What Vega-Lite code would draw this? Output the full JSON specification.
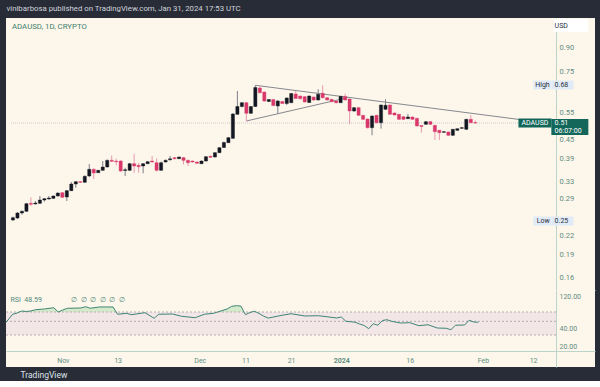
{
 "$schema": "https://vega.github.io/schema/vega-lite/v6.json",
 "background": "#282c37",
 "padding": {"left": 5, "right": 6, "top": 5, "bottom": 2},
 "title": {"text": "vinibarbosa published on TradingView.com, Jan 31, 2024 17:53 UTC", "anchor": "start", "fontSize": 7.8, "fontWeight": "normal", "color": "#d1d4dc", "offset": 5, "dx": 1},
 "config": {"font": "Roboto", "view": {"stroke": null, "fill": "#fdf6ea"}},
 "spacing": 0,
 "bounds": "flush",
 "datasets": {
  "candles": [
   {"d":"2023-10-20","o":0.2468,"h":0.2533,"l":0.2449,"c":0.2511},
   {"d":"2023-10-21","o":0.2505,"h":0.2620,"l":0.2486,"c":0.2600},
   {"d":"2023-10-22","o":0.2600,"h":0.2650,"l":0.2568,"c":0.2634},
   {"d":"2023-10-23","o":0.2634,"h":0.2802,"l":0.2620,"c":0.2788},
   {"d":"2023-10-24","o":0.2796,"h":0.2924,"l":0.2740,"c":0.2776},
   {"d":"2023-10-25","o":0.2782,"h":0.2845,"l":0.2771,"c":0.2802},
   {"d":"2023-10-26","o":0.2796,"h":0.2953,"l":0.2782,"c":0.2866},
   {"d":"2023-10-27","o":0.2866,"h":0.2909,"l":0.2830,"c":0.2894},
   {"d":"2023-10-28","o":0.2887,"h":0.2953,"l":0.2877,"c":0.2909},
   {"d":"2023-10-29","o":0.2902,"h":0.2964,"l":0.2887,"c":0.2953},
   {"d":"2023-10-30","o":0.2953,"h":0.3032,"l":0.2942,"c":0.3020},
   {"d":"2023-10-31","o":0.3027,"h":0.3043,"l":0.2909,"c":0.2924},
   {"d":"2023-11-01","o":0.2931,"h":0.3089,"l":0.2845,"c":0.3073},
   {"d":"2023-11-02","o":0.3073,"h":0.3279,"l":0.3066,"c":0.3230},
   {"d":"2023-11-03","o":0.3230,"h":0.3304,"l":0.3142,"c":0.3286},
   {"d":"2023-11-04","o":0.3286,"h":0.3304,"l":0.3255,"c":0.3272},
   {"d":"2023-11-05","o":0.3272,"h":0.3443,"l":0.3255,"c":0.3422},
   {"d":"2023-11-06","o":0.3430,"h":0.3751,"l":0.3404,"c":0.3606},
   {"d":"2023-11-07","o":0.3606,"h":0.3628,"l":0.3353,"c":0.3507},
   {"d":"2023-11-08","o":0.3515,"h":0.3587,"l":0.3507,"c":0.3579},
   {"d":"2023-11-09","o":0.3579,"h":0.3836,"l":0.3560,"c":0.3668},
   {"d":"2023-11-10","o":0.3668,"h":0.3880,"l":0.3655,"c":0.3856},
   {"d":"2023-11-11","o":0.3856,"h":0.3998,"l":0.3808,"c":0.3827},
   {"d":"2023-11-12","o":0.3836,"h":0.3903,"l":0.3715,"c":0.3816},
   {"d":"2023-11-13","o":0.3836,"h":0.3865,"l":0.3534,"c":0.3560},
   {"d":"2023-11-14","o":0.3574,"h":0.3649,"l":0.3430,"c":0.3595},
   {"d":"2023-11-15","o":0.3579,"h":0.3779,"l":0.3560,"c":0.3760},
   {"d":"2023-11-16","o":0.3760,"h":0.4052,"l":0.3515,"c":0.3696},
   {"d":"2023-11-17","o":0.3715,"h":0.3779,"l":0.3515,"c":0.3676},
   {"d":"2023-11-18","o":0.3696,"h":0.3779,"l":0.3499,"c":0.3760},
   {"d":"2023-11-19","o":0.3760,"h":0.3836,"l":0.3751,"c":0.3816},
   {"d":"2023-11-20","o":0.3836,"h":0.3983,"l":0.3794,"c":0.3808},
   {"d":"2023-11-21","o":0.3788,"h":0.3909,"l":0.3547,"c":0.3579},
   {"d":"2023-11-22","o":0.3579,"h":0.3822,"l":0.3560,"c":0.3788},
   {"d":"2023-11-23","o":0.3808,"h":0.3880,"l":0.3794,"c":0.3856},
   {"d":"2023-11-24","o":0.3871,"h":0.3983,"l":0.3851,"c":0.3900},
   {"d":"2023-11-25","o":0.3933,"h":0.3953,"l":0.3880,"c":0.3903},
   {"d":"2023-11-26","o":0.3903,"h":0.3968,"l":0.3894,"c":0.3953},
   {"d":"2023-11-27","o":0.3933,"h":0.3953,"l":0.3743,"c":0.3856},
   {"d":"2023-11-28","o":0.3856,"h":0.3880,"l":0.3696,"c":0.3788},
   {"d":"2023-11-29","o":0.3836,"h":0.3851,"l":0.3794,"c":0.3808},
   {"d":"2023-11-30","o":0.3808,"h":0.3822,"l":0.3760,"c":0.3771},
   {"d":"2023-12-01","o":0.3760,"h":0.3851,"l":0.3751,"c":0.3836},
   {"d":"2023-12-02","o":0.3836,"h":0.3983,"l":0.3822,"c":0.3962},
   {"d":"2023-12-03","o":0.3974,"h":0.3998,"l":0.3924,"c":0.3944},
   {"d":"2023-12-04","o":0.3953,"h":0.4104,"l":0.3938,"c":0.4082},
   {"d":"2023-12-05","o":0.4082,"h":0.4260,"l":0.4073,"c":0.4238},
   {"d":"2023-12-06","o":0.4244,"h":0.4439,"l":0.4228,"c":0.4406},
   {"d":"2023-12-07","o":0.4400,"h":0.4591,"l":0.4390,"c":0.4567},
   {"d":"2023-12-08","o":0.4547,"h":0.5494,"l":0.4523,"c":0.5453},
   {"d":"2023-12-09","o":0.5441,"h":0.6476,"l":0.5412,"c":0.5767},
   {"d":"2023-12-10","o":0.5767,"h":0.5965,"l":0.5724,"c":0.5933},
   {"d":"2023-12-11","o":0.5933,"h":0.5965,"l":0.5155,"c":0.5482},
   {"d":"2023-12-12","o":0.5482,"h":0.5789,"l":0.5453,"c":0.5767},
   {"d":"2023-12-13","o":0.5767,"h":0.6759,"l":0.5746,"c":0.6648},
   {"d":"2023-12-14","o":0.6624,"h":0.6749,"l":0.6356,"c":0.6394},
   {"d":"2023-12-15","o":0.6428,"h":0.6452,"l":0.5965,"c":0.6009},
   {"d":"2023-12-16","o":0.5987,"h":0.6100,"l":0.5965,"c":0.6077},
   {"d":"2023-12-17","o":0.6077,"h":0.6100,"l":0.5789,"c":0.5810},
   {"d":"2023-12-18","o":0.5789,"h":0.6055,"l":0.5473,"c":0.6009},
   {"d":"2023-12-19","o":0.5987,"h":0.6009,"l":0.5876,"c":0.5898},
   {"d":"2023-12-20","o":0.5898,"h":0.6169,"l":0.5832,"c":0.6146},
   {"d":"2023-12-21","o":0.5933,"h":0.6380,"l":0.5920,"c":0.6356},
   {"d":"2023-12-22","o":0.6332,"h":0.6476,"l":0.6100,"c":0.6123},
   {"d":"2023-12-23","o":0.6238,"h":0.6262,"l":0.6077,"c":0.6114},
   {"d":"2023-12-24","o":0.6206,"h":0.6238,"l":0.5942,"c":0.5965},
   {"d":"2023-12-25","o":0.5942,"h":0.6262,"l":0.5920,"c":0.6238},
   {"d":"2023-12-26","o":0.6192,"h":0.6215,"l":0.6009,"c":0.6055},
   {"d":"2023-12-27","o":0.6055,"h":0.6559,"l":0.6032,"c":0.6318},
   {"d":"2023-12-28","o":0.6366,"h":0.6759,"l":0.6123,"c":0.6160},
   {"d":"2023-12-29","o":0.6160,"h":0.6192,"l":0.6032,"c":0.6055},
   {"d":"2023-12-30","o":0.6086,"h":0.6100,"l":0.5965,"c":0.5978},
   {"d":"2023-12-31","o":0.6009,"h":0.6032,"l":0.5898,"c":0.5933},
   {"d":"2024-01-01","o":0.5933,"h":0.6238,"l":0.5920,"c":0.6224},
   {"d":"2024-01-02","o":0.6215,"h":0.6346,"l":0.6032,"c":0.6055},
   {"d":"2024-01-03","o":0.6100,"h":0.6123,"l":0.5049,"c":0.5577},
   {"d":"2024-01-04","o":0.5577,"h":0.5746,"l":0.5535,"c":0.5716},
   {"d":"2024-01-05","o":0.5716,"h":0.5746,"l":0.5372,"c":0.5400},
   {"d":"2024-01-06","o":0.5400,"h":0.5412,"l":0.5214,"c":0.5241},
   {"d":"2024-01-07","o":0.5253,"h":0.5272,"l":0.4893,"c":0.4922},
   {"d":"2024-01-08","o":0.4922,"h":0.5392,"l":0.4650,"c":0.5372},
   {"d":"2024-01-09","o":0.5400,"h":0.5412,"l":0.5079,"c":0.5109},
   {"d":"2024-01-10","o":0.5109,"h":0.5854,"l":0.4885,"c":0.5832},
   {"d":"2024-01-11","o":0.5648,"h":0.6086,"l":0.5618,"c":0.5819},
   {"d":"2024-01-12","o":0.5832,"h":0.5854,"l":0.5412,"c":0.5441},
   {"d":"2024-01-13","o":0.5494,"h":0.5515,"l":0.5392,"c":0.5412},
   {"d":"2024-01-14","o":0.5441,"h":0.5453,"l":0.5214,"c":0.5241},
   {"d":"2024-01-15","o":0.5344,"h":0.5372,"l":0.5214,"c":0.5241},
   {"d":"2024-01-16","o":0.5265,"h":0.5453,"l":0.5253,"c":0.5332},
   {"d":"2024-01-17","o":0.5332,"h":0.5352,"l":0.5214,"c":0.5241},
   {"d":"2024-01-18","o":0.5280,"h":0.5292,"l":0.4966,"c":0.4985},
   {"d":"2024-01-19","o":0.5004,"h":0.5022,"l":0.4741,"c":0.4966},
   {"d":"2024-01-20","o":0.5049,"h":0.5175,"l":0.5022,"c":0.5148},
   {"d":"2024-01-21","o":0.5148,"h":0.5175,"l":0.5022,"c":0.5049},
   {"d":"2024-01-22","o":0.5011,"h":0.5022,"l":0.4489,"c":0.4777},
   {"d":"2024-01-23","o":0.4827,"h":0.4838,"l":0.4489,"c":0.4741},
   {"d":"2024-01-24","o":0.4755,"h":0.4802,"l":0.4731,"c":0.4777},
   {"d":"2024-01-25","o":0.4766,"h":0.4784,"l":0.4626,"c":0.4650},
   {"d":"2024-01-26","o":0.4650,"h":0.4874,"l":0.4626,"c":0.4863},
   {"d":"2024-01-27","o":0.4827,"h":0.4893,"l":0.4802,"c":0.4885},
   {"d":"2024-01-28","o":0.4900,"h":0.4948,"l":0.4874,"c":0.4922},
   {"d":"2024-01-29","o":0.4863,"h":0.5253,"l":0.4838,"c":0.5241},
   {"d":"2024-01-30","o":0.5241,"h":0.5412,"l":0.5098,"c":0.5109},
   {"d":"2024-01-31","o":0.5113,"h":0.5194,"l":0.5060,"c":0.5098}
  ],
  "rsi": [
   {"d":"2023-10-19","r":44.6},{"d":"2023-10-20","r":52.8},{"d":"2023-10-21","r":65.1},{"d":"2023-10-22","r":67.8},
   {"d":"2023-10-23","r":72.2},{"d":"2023-10-24","r":71.1},{"d":"2023-10-25","r":72.2},{"d":"2023-10-26","r":74.9},
   {"d":"2023-10-28","r":76.5},{"d":"2023-10-30","r":79.2},{"d":"2023-10-31","r":70.0},{"d":"2023-11-01","r":74.3},
   {"d":"2023-11-02","r":78.0},{"d":"2023-11-05","r":78.6},{"d":"2023-11-06","r":81.4},{"d":"2023-11-07","r":78.0},
   {"d":"2023-11-09","r":80.8},{"d":"2023-11-12","r":80.8},{"d":"2023-11-13","r":65.1},{"d":"2023-11-15","r":67.2},
   {"d":"2023-11-16","r":64.2},{"d":"2023-11-19","r":68.5},{"d":"2023-11-21","r":56.5},{"d":"2023-11-22","r":65.1},
   {"d":"2023-11-25","r":65.7},{"d":"2023-11-27","r":60.8},{"d":"2023-11-30","r":57.7},{"d":"2023-12-02","r":65.1},
   {"d":"2023-12-04","r":67.2},{"d":"2023-12-07","r":76.5},{"d":"2023-12-08","r":82.3},{"d":"2023-12-09","r":83.5},
   {"d":"2023-12-10","r":82.9},{"d":"2023-12-11","r":64.2},{"d":"2023-12-12","r":68.9},{"d":"2023-12-13","r":71.7},
   {"d":"2023-12-14","r":66.8},{"d":"2023-12-15","r":61.0},{"d":"2023-12-16","r":56.9},{"d":"2023-12-19","r":62.9},
   {"d":"2023-12-21","r":66.3},{"d":"2023-12-24","r":61.4},{"d":"2023-12-27","r":62.0},{"d":"2023-12-31","r":57.1},
   {"d":"2024-01-01","r":59.2},{"d":"2024-01-02","r":50.0},{"d":"2024-01-03","r":49.4},{"d":"2024-01-04","r":48.7},
   {"d":"2024-01-05","r":46.1},{"d":"2024-01-06","r":43.9},{"d":"2024-01-07","r":39.2},{"d":"2024-01-08","r":46.5},
   {"d":"2024-01-09","r":44.2},{"d":"2024-01-10","r":51.7},{"d":"2024-01-11","r":53.4},{"d":"2024-01-12","r":50.0},
   {"d":"2024-01-14","r":47.5},{"d":"2024-01-16","r":48.0},{"d":"2024-01-18","r":43.6},{"d":"2024-01-20","r":45.0},
   {"d":"2024-01-22","r":40.2},{"d":"2024-01-24","r":39.8},{"d":"2024-01-25","r":37.7},{"d":"2024-01-26","r":44.2},
   {"d":"2024-01-28","r":44.6},{"d":"2024-01-29","r":52.2},{"d":"2024-01-30","r":49.0},{"d":"2024-01-31","r":48.59}
  ]
 },
 "vconcat": [
  {
   "width": 589,
   "height": 272,
   "title": {"text": "ADAUSD, 1D, CRYPTO", "anchor": "start", "fontSize": 7.8, "fontWeight": "normal", "color": "#3e7f70", "offset": -13, "dx": 6},
   "layer": [
    {
     "data": {"values": [{"p": 0.5098}]},
     "mark": {"type": "rule", "strokeDash": [1, 1], "color": "#c9cbd1", "strokeWidth": 1},
     "encoding": {
      "x": {"datum": 1697722155000, "type": "temporal",
            "scale": {"type": "utc", "domain": [1697722155000, 1708867490000], "nice": false},
            "axis": {"orient": "bottom", "labels": false, "ticks": false, "grid": false, "title": null, "domainColor": "#bcd3c9"}},
      "x2": {"datum": 1708129510000},
      "y": {"field": "p", "type": "quantitative",
            "scale": {"type": "log", "domain": [0.1462, 1.118], "nice": false},
            "axis": {"orient": "right", "offset": -39, "values": [0.16, 0.19, 0.22, 0.29, 0.33, 0.39, 0.45, 0.55, 0.75, 0.9], "tickCount": 20, "format": ".2f", "ticks": false, "grid": false, "title": null, "labelPadding": 3, "labelFontSize": 7.5, "labelColor": "#5f8d81", "domainColor": "#bcd3c9", "labelFlush": false, "labelOverlap": false, "zindex": 0}}
     }
    },
    {
     "data": {"values": [
      {"g": "u", "d": "2023-12-13", "p": 0.6759},
      {"g": "u", "d": "2024-02-09T19:00:00Z", "p": 0.5234},
      {"g": "l", "d": "2023-12-11", "p": 0.5175},
      {"g": "l", "d": "2024-01-02T16:00:00Z", "p": 0.6169}
     ]},
     "mark": {"type": "line", "color": "#85888f", "strokeWidth": 1},
     "encoding": {
      "x": {"field": "d", "type": "temporal"},
      "y": {"field": "p", "type": "quantitative"},
      "detail": {"field": "g"}
     }
    },
    {
     "data": {"name": "candles"},
     "mark": {"type": "rule", "strokeWidth": 1},
     "encoding": {
      "x": {"field": "d", "type": "temporal"},
      "y": {"field": "l", "type": "quantitative"},
      "y2": {"field": "h"},
      "color": {"condition": {"test": "datum.c >= datum.o", "value": "#7d808a"}, "value": "#e69ab1"}
     }
    },
    {
     "data": {"name": "candles"},
     "mark": {"type": "bar", "width": 3.2, "strokeWidth": 0.4},
     "encoding": {
      "x": {"field": "d", "type": "temporal"},
      "y": {"field": "o", "type": "quantitative"},
      "y2": {"field": "c"},
      "color": {"condition": {"test": "datum.c >= datum.o", "value": "#131722"}, "value": "#d8386b"},
      "stroke": {"condition": {"test": "datum.c >= datum.o", "value": "#131722"}, "value": "#d8386b"}
     }
    },
    {
     "data": {"values": [{"p": 0.6774}, {"p": 0.2449}]},
     "mark": {"type": "tick", "orient": "horizontal", "size": 18, "thickness": 9, "color": "#e1ebf7", "opacity": 1},
     "encoding": {
      "x": {"datum": 1707949750000, "type": "temporal"},
      "y": {"field": "p", "type": "quantitative"}
     }
    },
    {
     "data": {"values": [{"p": 0.6774}, {"p": 0.2449}]},
     "mark": {"type": "tick", "orient": "horizontal", "size": 22, "thickness": 9, "color": "#e1ebf7", "opacity": 1},
     "encoding": {
      "x": {"datum": 1708337660000, "type": "temporal"},
      "y": {"field": "p", "type": "quantitative"}
     }
    },
    {
     "data": {"values": [{"p": 0.5098}]},
     "mark": {"type": "tick", "orient": "horizontal", "size": 33, "thickness": 9, "color": "#12675a", "opacity": 1},
     "encoding": {
      "x": {"datum": 1707807830000, "type": "temporal"},
      "y": {"field": "p", "type": "quantitative"}
     }
    },
    {
     "data": {"values": [{"p": 0.4952}]},
     "mark": {"type": "tick", "orient": "horizontal", "size": 37, "thickness": 16, "color": "#12675a", "opacity": 1},
     "encoding": {
      "x": {"datum": 1708479580000, "type": "temporal"},
      "y": {"field": "p", "type": "quantitative"}
     }
    },
    {
     "data": {"values": [{"p": 1.057}]},
     "mark": {"type": "tick", "orient": "horizontal", "size": 35, "thickness": 13, "color": "#ffffff", "opacity": 1},
     "encoding": {
      "x": {"datum": 1708498500000, "type": "temporal"},
      "y": {"field": "p", "type": "quantitative"}
     }
    },
    {
     "data": {"values": [{"p": 0.6774, "t": "High"}, {"p": 0.2449, "t": "Low"}]},
     "mark": {"type": "text", "align": "right", "baseline": "middle", "fontSize": 7, "color": "#2a2e39"},
     "encoding": {
      "x": {"datum": 1708091670000, "type": "temporal"},
      "y": {"field": "p", "type": "quantitative"},
      "text": {"field": "t"}
     }
    },
    {
     "data": {"values": [{"p": 0.6774, "t": "0.68"}, {"p": 0.2449, "t": "0.25"}, {"p": 1.057, "t": "USD"}]},
     "mark": {"type": "text", "align": "left", "baseline": "middle", "fontSize": 7, "color": "#2a2e39"},
     "encoding": {
      "x": {"datum": 1708186280000, "type": "temporal"},
      "y": {"field": "p", "type": "quantitative"},
      "text": {"field": "t"}
     }
    },
    {
     "data": {"values": [{"p": 0.5098, "t": "ADAUSD"}]},
     "mark": {"type": "text", "align": "center", "baseline": "middle", "fontSize": 7, "color": "#ffffff"},
     "encoding": {
      "x": {"datum": 1707807830000, "type": "temporal"},
      "y": {"field": "p", "type": "quantitative"},
      "text": {"field": "t"}
     }
    },
    {
     "data": {"values": [{"p": 0.5098, "t": "0.51"}, {"p": 0.4791, "t": "06:07:00"}]},
     "mark": {"type": "text", "align": "left", "baseline": "middle", "fontSize": 7, "color": "#ffffff"},
     "encoding": {
      "x": {"datum": 1708186280000, "type": "temporal"},
      "y": {"field": "p", "type": "quantitative"},
      "text": {"field": "t"}
     }
    }
   ]
  },
  {
   "width": 589,
   "height": 77,
   "title": {"text": "RSI\u00a0\u00a048.59\u00a0\u00a0\u00a0\u00a0\u00a0\u00a0\u00a0\u00a0\u00a0\u00a0\u00a0\u00a0\u00a0\u00a0\u00a0\u00a0\u00a0\u2205\u00a0\u00a0\u2205\u00a0\u00a0\u2205\u00a0\u00a0\u2205\u00a0\u00a0\u2205\u00a0\u00a0\u2205", "anchor": "start", "fontSize": 7, "fontWeight": "normal", "color": "#4f8a7c", "offset": -13, "dx": 5},
   "layer": [
    {
     "data": {"name": "rsi"},
     "mark": {"type": "area", "color": "#d3e9c8", "opacity": 0.95, "clip": true},
     "encoding": {
      "x": {"field": "d", "type": "temporal",
            "scale": {"type": "utc", "domain": [1697722155000, 1708867490000], "nice": false},
            "axis": {"orient": "bottom", "offset": -16, "values": [1698796800000, 1699833600000, 1701388800000, 1702252800000, 1703116800000, 1704067200000, 1705363200000, 1706745600000, 1707696000000], "tickCount": 20,
                     "labelExpr": "utcdate(datum.value)==1 ? (utcmonth(datum.value)==0 ? utcFormat(datum.value,'%Y') : utcFormat(datum.value,'%b')) : utcFormat(datum.value,'%-d')",
                     "labelFontWeight": {"condition": {"test": "utcmonth(datum.value)==0 && utcdate(datum.value)==1", "value": "bold"}, "value": "normal"},
                     "ticks": false, "grid": false, "domainColor": "#bcd3c9", "labelColor": "#5c8f82", "labelFontSize": 7, "labelPadding": 5, "labelFlush": false, "labelOverlap": false,
                     "title": "TradingView", "titleX": 14, "titleY": 23, "titleAlign": "left", "titleBaseline": "middle", "titleFontSize": 8.5, "titleFontWeight": "normal", "titleColor": "#dfe2ea"}},
      "y": {"field": "r", "type": "quantitative",
            "scale": {"type": "linear", "domain": [-16.7, 30, 50, 70, 117.3], "range": [77, 45, 31.3, 22, 0], "nice": false, "zero": false},
            "axis": {"orient": "right", "offset": -39, "values": [102.3, 40, 13.9], "tickCount": 20, "labelExpr": "datum.value > 90 ? '120.00' : (datum.value > 25 ? '40.00' : '20.00')", "ticks": false, "grid": false, "title": null, "labelPadding": 3, "labelFontSize": 7, "labelColor": "#5f8d81", "domainColor": "#bcd3c9", "labelFlush": false, "labelOverlap": false}},
      "y2": {"datum": 70}
     }
    },
    {
     "data": {"values": [{}]},
     "mark": {"type": "rect", "color": "#f2e6e7"},
     "encoding": {
      "x": {"datum": 1697722155000, "type": "temporal"},
      "x2": {"datum": 1708129510000},
      "y": {"datum": 70, "type": "quantitative"},
      "y2": {"datum": 30}
     }
    },
    {
     "data": {"values": [{"v": 70}, {"v": 50}, {"v": 30}]},
     "mark": {"type": "rule", "strokeDash": [2, 2], "color": "#b5acb0", "strokeWidth": 1},
     "encoding": {
      "x": {"datum": 1697722155000, "type": "temporal"},
      "x2": {"datum": 1708129510000},
      "y": {"field": "v", "type": "quantitative"}
     }
    },
    {
     "data": {"name": "rsi"},
     "mark": {"type": "line", "color": "#3d8574", "strokeWidth": 1, "clip": true},
     "encoding": {
      "x": {"field": "d", "type": "temporal"},
      "y": {"field": "r", "type": "quantitative"}
     }
    }
   ]
  }
 ]
}
